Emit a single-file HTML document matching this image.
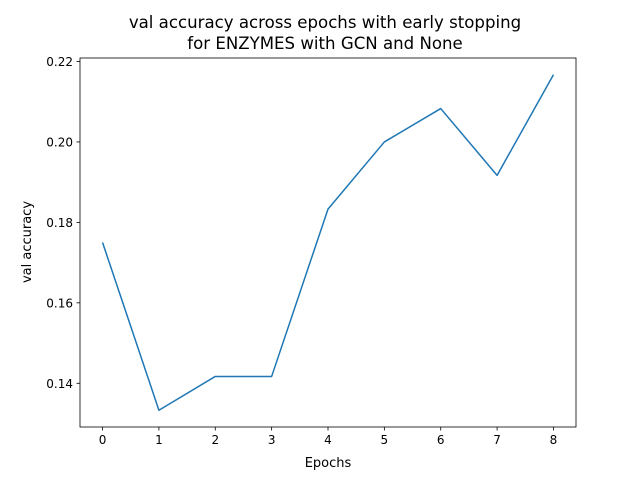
<!DOCTYPE html>
<html><head><meta charset="utf-8"><style>
body{margin:0;background:#fff;}
text{font-family:"DejaVu Sans","Liberation Sans",sans-serif;fill:#000;}
</style></head><body>
<svg id="chart" width="640" height="480" viewBox="0 0 640 480">
<rect width="640" height="480" fill="#fff"/>
<text x="325" y="28" font-size="16.6" text-anchor="middle">val accuracy across epochs with early stopping</text>
<text x="325" y="49" font-size="16.6" text-anchor="middle">for ENZYMES with GCN and None</text>
<g id="ticks"></g>
<path id="line" fill="none" stroke="#1f77b4" stroke-width="1.5" stroke-linejoin="round"/>
<rect x="80" y="58" width="496" height="369" fill="none" stroke="#000" stroke-width="0.8"/>
<text x="328" y="467" font-size="13" text-anchor="middle">Epochs</text>
<text x="31" y="242" font-size="13" text-anchor="middle" transform="rotate(-90 31 242)">val accuracy</text>
</svg>
<script>
const epochs=[0,1,2,3,4,5,6,7,8];
const valAcc=[0.175,0.1333,0.1417,0.1417,0.1833,0.2,0.2083,0.1917,0.2167];
const yTicks=[0.14,0.16,0.18,0.20,0.22];
const yTickLabels=["0.14","0.16","0.18","0.20","0.22"];
const xTicks=[0,1,2,3,4,5,6,7,8];
const L=80,R=576,T=58,B=427;
const xmin=-0.4,xmax=8.4;
const dmin=Math.min(...valAcc),dmax=Math.max(...valAcc),m=(dmax-dmin)*0.05;
const ymin=dmin-m,ymax=dmax+m;
const xs=v=>L+(v-xmin)/(xmax-xmin)*(R-L);
const ys=v=>B-(v-ymin)/(ymax-ymin)*(B-T);
const NS="http://www.w3.org/2000/svg";
const g=document.getElementById('ticks');
function mk(tag,attrs,txt){const e=document.createElementNS(NS,tag);for(const k in attrs)e.setAttribute(k,attrs[k]);if(txt!==undefined)e.textContent=txt;g.appendChild(e);return e;}
xTicks.forEach(v=>{
 const t=mk('line',{x1:xs(v),x2:xs(v),y1:B,y2:B+3.5,stroke:'#000','stroke-width':0.8});
 
 
 const l=mk('text',{x:xs(v),y:B+17,'font-size':12,'text-anchor':'middle'},String(v));
 
 
});
yTicks.forEach((v,i)=>{
 const t=mk('line',{x1:L-3.5,x2:L,y1:ys(v),y2:ys(v),stroke:'#000','stroke-width':0.8});
 
 
 const l=mk('text',{x:L-7,y:ys(v)+4.5,'font-size':12,'text-anchor':'end'},yTickLabels[i]);
 
 
});
document.getElementById('line').setAttribute('d',epochs.map((e,i)=>(i?'L':'M')+xs(e).toFixed(2)+' '+ys(valAcc[i]).toFixed(2)).join(' '));
</script>
</body></html>
